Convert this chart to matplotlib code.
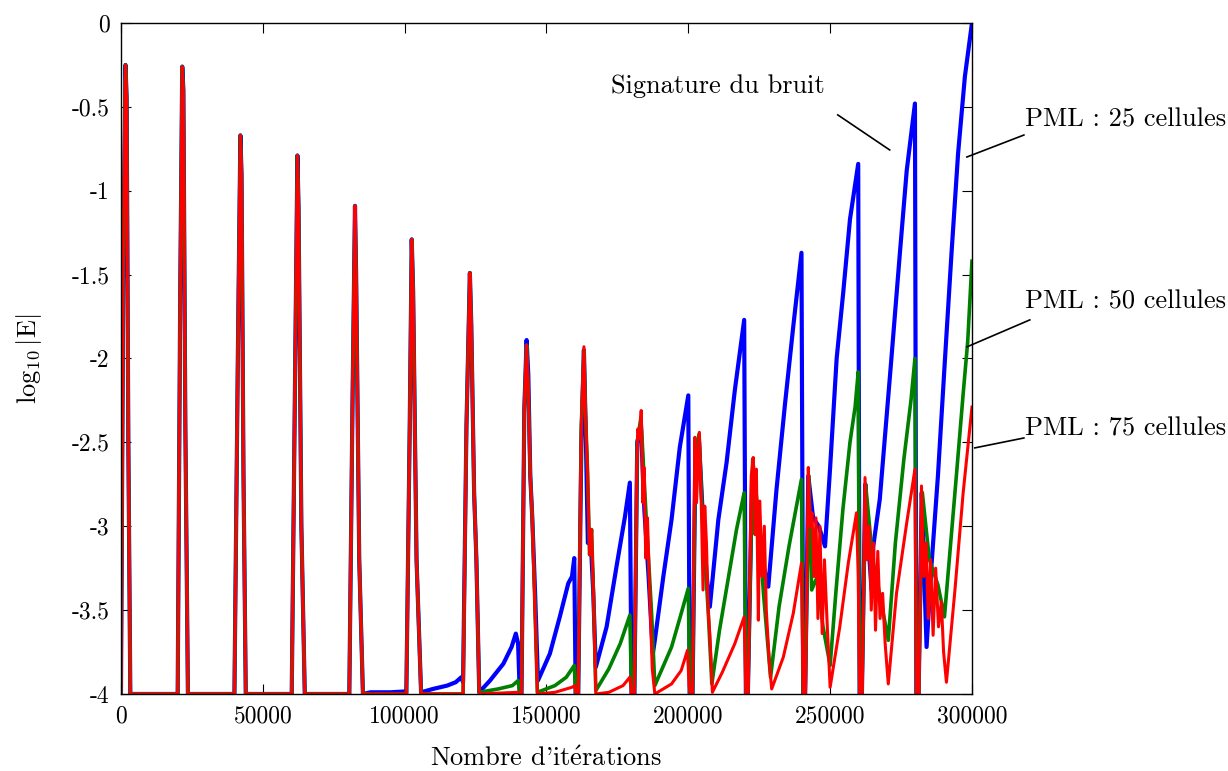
import matplotlib
matplotlib.use("Agg")
import matplotlib.pyplot as plt

plt.rcParams["font.family"] = ["cmr10", "DejaVu Serif"]
plt.rcParams["mathtext.fontset"] = "cm"
plt.rcParams["axes.unicode_minus"] = False

# spikes shared by the three runs (0 -> 85000 iterations)
early_x = [0, 800, 1600, 2000, 2600, 3300,
           20000, 20900, 21600, 22000, 22700, 23600,
           40000, 41200, 42100, 42500, 43200, 44000,
           60200, 61300, 62200, 62600, 63600, 64800,
           80500, 81600, 82500, 82900, 84000, 85300]
early_y = [-4, -1.5, -0.25, -0.45, -2.5, -4,
           -4, -1.6, -0.26, -0.4, -2.4, -4,
           -4, -2.0, -0.67, -0.9, -2.7, -4,
           -4, -2.2, -0.79, -1.1, -3.0, -4,
           -4, -2.3, -1.09, -1.5, -3.2, -4]

# PML 25 cells (blue)
blue_x = [88000, 95000, 100000, 100600, 101800, 102500, 103000, 104200, 105800,
          110000, 115000, 118000, 120000, 120600, 121800, 123000, 123500, 124500, 125300, 126300,
          130100, 134800, 137700, 139200, 140000, 140600,
          141200, 142200, 143000, 143600, 144300, 145000, 146000, 147000,
          151200, 154700, 157700, 159000, 159800, 160300,
          161200, 162300, 163200, 163800, 164600, 165500, 166500, 167400,
          171200, 174700, 177700, 179400, 180000,
          181000, 182000, 183300, 184500, 186000, 187500, 188200,
          191200, 194100, 197000, 200000, 200500,
          201500, 202500, 203800, 205000, 206500, 207600,
          210600, 213500, 216400, 219700, 220300,
          221000, 222500, 224000, 226000, 228200,
          231100, 234100, 237000, 239900, 240500,
          241200, 242300, 244000, 246000, 248200,
          250000, 252300, 254600, 257000, 259900, 260400,
          261200, 262400, 263500, 264600, 265200,
          267500, 269900, 271600, 274600, 277000, 279900, 280400,
          281200, 282300, 283200, 284000,
          285700, 288000, 290500, 292800, 295100, 297500, 300000]
blue_y = [-3.99, -3.99, -3.985, -4, -2.4, -1.29, -1.6, -3.2, -3.99,
          -3.97, -3.95, -3.93, -3.90, -3.93, -2.4, -1.49, -1.8, -2.8, -3.2, -3.99,
          -3.92, -3.82, -3.72, -3.64, -3.70, -4,
          -4, -2.3, -1.89, -2.1, -2.7, -2.95, -3.4, -3.92,
          -3.76, -3.54, -3.34, -3.30, -3.19, -4,
          -4, -2.5, -1.95, -2.4, -3.1, -3.05, -3.4, -3.84,
          -3.60, -3.24, -2.94, -2.74, -4,
          -4, -2.5, -2.4, -2.9, -3.3, -3.76, -3.68,
          -3.30, -2.96, -2.53, -2.22, -4,
          -4, -2.6, -2.5, -2.9, -3.3, -3.48,
          -2.96, -2.62, -2.19, -1.77, -4,
          -4, -2.7, -2.9, -3.2, -3.36,
          -2.78, -2.27, -1.81, -1.37, -4,
          -4, -2.7, -2.95, -3.0, -3.12,
          -2.65, -2.0, -1.61, -1.17, -0.84, -4,
          -4, -2.75, -3.1, -3.38, -3.12,
          -2.84, -2.35, -2.0, -1.37, -0.88, -0.48, -4,
          -4, -2.8, -3.3, -3.72,
          -3.24, -2.7, -2.0, -1.37, -0.78, -0.32, 0.0]

# PML 50 cells (green)
green_x = [100600, 101800, 102500, 103000, 104200, 105800,
           120600, 121800, 123000, 123500, 124500, 125300, 126300,
           133000, 138000, 140000, 140600,
           141200, 142200, 143000, 143600, 144300, 145000, 145800, 146800,
           153000, 157000, 159800, 160300,
           161200, 162300, 163200, 163700, 164500, 165200, 165900, 166600, 167400,
           172000, 176000, 179400, 180000,
           181000, 182000, 183300, 185000, 187000, 188200,
           194100, 197500, 200000, 200500,
           201500, 202500, 203800, 205000, 207000, 208300,
           211000, 214000, 217000, 219700, 220300,
           221000, 222700, 224500, 226500, 229000,
           232000, 235500, 239900, 240500,
           241200, 242500, 243500, 245500, 247500, 250000,
           252000, 254500, 257000, 258800, 259900, 260400,
           261200, 262500, 265000, 268000, 270500,
           273000, 276000, 278500, 279900, 280400,
           281200, 282500, 285000, 288000, 290300,
           292500, 294600, 296900, 298500, 300000]
green_y = [-4, -2.4, -1.29, -1.6, -3.2, -4,
           -4, -2.4, -1.49, -1.8, -2.8, -3.2, -3.99,
           -3.97, -3.95, -3.92, -4,
           -4, -2.3, -1.92, -2.2, -2.7, -2.95, -3.4, -3.99,
           -3.95, -3.90, -3.83, -4,
           -4, -2.4, -1.95, -2.3, -2.68, -3.17, -3.02, -3.42, -3.98,
           -3.85, -3.70, -3.53, -4,
           -4, -2.5, -2.35, -2.9, -3.5, -3.95,
           -3.72, -3.52, -3.37, -4,
           -4, -2.55, -2.45, -2.95, -3.5, -3.94,
           -3.62, -3.32, -3.02, -2.80, -4,
           -4, -2.6, -2.9, -3.4, -3.90,
           -3.48, -3.12, -2.72, -4,
           -4, -2.7, -3.38, -3.3, -3.6, -3.83,
           -3.4, -2.9, -2.5, -2.29, -2.08, -4,
           -4, -2.75, -3.2, -3.45, -3.68,
           -3.1, -2.6, -2.25, -2.0, -4,
           -4, -2.8, -3.2, -3.35, -3.54,
           -3.1, -2.68, -2.21, -1.9, -1.42]

# PML 75 cells (red)
red_x = [100600, 101800, 102500, 103000, 104200, 105800,
         120600, 121800, 123000, 123500, 124500, 125300, 126300,
         140000, 140600,
         141200, 142200, 143000, 143600, 144300, 145000, 145800, 146800,
         153000, 159000, 160000, 160500,
         161200, 162300, 163200, 163700, 164500, 165200, 165900, 166600, 167400,
         172000, 177000, 179400, 180000,
         181000, 181800, 182200, 182800, 183400, 184000, 184400, 185000, 185600, 186300, 187300, 188200,
         194100, 197500, 199700, 200300, 200700,
         201500, 202300, 202900, 203900, 204500, 205200, 205800, 206400, 207000, 207600, 208500,
         212000, 216400, 219700, 220300,
         221100, 222200, 222900, 223500, 224000, 224700, 225200, 226000, 226800, 227500, 228500, 229400,
         233500, 237000, 239900, 240500,
         241300, 242300, 243000, 243600, 244300, 245000, 245700, 246400, 247200, 248000, 249000, 250000,
         253400, 256400, 259300, 259900, 260400,
         261300, 262300, 263000, 263800, 264500, 265300, 266000, 266800, 267600, 268500, 269400, 270500,
         273400, 277000, 279900, 280400,
         281300, 282200, 283000, 283800, 284600, 285400, 286300, 287200, 288200, 289200, 290000, 291000,
         294000, 296900, 300000]
red_y = [-4, -2.4, -1.29, -1.6, -3.2, -4,
         -4, -2.4, -1.49, -1.8, -2.8, -3.2, -4,
         -3.99, -4,
         -4, -2.3, -1.92, -2.2, -2.7, -2.95, -3.4, -4,
         -3.99, -3.96, -3.95, -4,
         -4, -2.4, -1.93, -2.3, -2.68, -3.17, -3.02, -3.42, -4,
         -3.99, -3.95, -3.90, -4,
         -4, -2.7, -2.42, -2.48, -2.31, -2.86, -2.65, -3.19, -2.95, -3.35, -3.85, -4.0,
         -3.94, -3.86, -3.74, -3.95, -4,
         -4, -2.47, -2.86, -2.44, -2.8, -3.38, -2.88, -3.1, -3.5, -3.65, -3.99,
         -3.87, -3.70, -3.54, -4,
         -4, -2.7, -2.59, -3.05, -2.66, -3.56, -2.85, -3.3, -3.0, -3.5, -3.8, -3.97,
         -3.78, -3.52, -3.22, -4,
         -4, -2.65, -3.0, -2.92, -3.3, -2.95, -3.55, -3.0, -3.64, -3.2, -3.6, -3.96,
         -3.60, -3.22, -2.92, -3.3, -4,
         -4, -2.71, -3.2, -3.0, -3.5, -3.1, -3.62, -3.15, -3.55, -3.4, -3.7, -3.94,
         -3.40, -2.98, -2.66, -4,
         -4, -2.76, -3.3, -3.1, -3.55, -3.2, -3.65, -3.25, -3.6, -3.45, -3.75, -3.93,
         -3.38, -2.80, -2.29]

x_ticks = [0, 50000, 100000, 150000, 200000, 250000, 300000]
y_ticks = [0, -0.5, -1, -1.5, -2, -2.5, -3, -3.5, -4]
y_tick_labels = ["0", "-0.5", "-1", "-1.5", "-2", "-2.5", "-3", "-3.5", "-4"]

fig = plt.figure(figsize=(12.28, 7.71), dpi=100)
ax = fig.add_axes([0.0985, 0.0999, 0.693, 0.8703])

ax.plot(early_x + blue_x, early_y + blue_y, color="#0000ff", lw=3.0)
ax.plot(early_x + green_x, early_y + green_y, color="#008000", lw=2.6)
ax.plot(early_x + red_x, early_y + red_y, color="#ff0000", lw=2.2)

ax.set_xlim(0, 300000)
ax.set_ylim(-4, 0)
ax.set_xticks(x_ticks)
ax.set_xticklabels([str(t) for t in x_ticks])
ax.set_yticks(y_ticks)
ax.set_yticklabels(y_tick_labels)
ax.tick_params(direction="in", top=True, right=True, length=7, labelsize=17, pad=8)
for s in ax.spines.values():
    s.set_linewidth(1.0)

ax.set_xlabel("Nombre d'it$\\acute{\\mathrm{e}}$rations", fontsize=19, labelpad=14)
ax.set_ylabel(r"$\log_{10}|\mathrm{E}|$", fontsize=19, labelpad=20)

# annotations
ax.text(210400, -0.376, "Signature du bruit", fontsize=19, ha="center", va="center")
ax.plot([252700, 271000], [-0.548, -0.757], color="black", lw=1.2)

labels = ["PML : 25 cellules", "PML : 50 cellules", "PML : 75 cellules"]
label_y = [-0.578, -1.663, -2.420]
line_a = [(318300, -0.668), (320400, -1.770), (318300, -2.474)]
line_b = [(298200, -0.799), (298200, -1.931), (301000, -2.533)]
for lab, ly, a, b in zip(labels, label_y, line_a, line_b):
    ax.text(318600, ly, lab, fontsize=19, ha="left", va="center", clip_on=False)
    ax.plot([a[0], b[0]], [a[1], b[1]], color="black", lw=1.2, clip_on=False)

fig.savefig("out.png", dpi=100)
